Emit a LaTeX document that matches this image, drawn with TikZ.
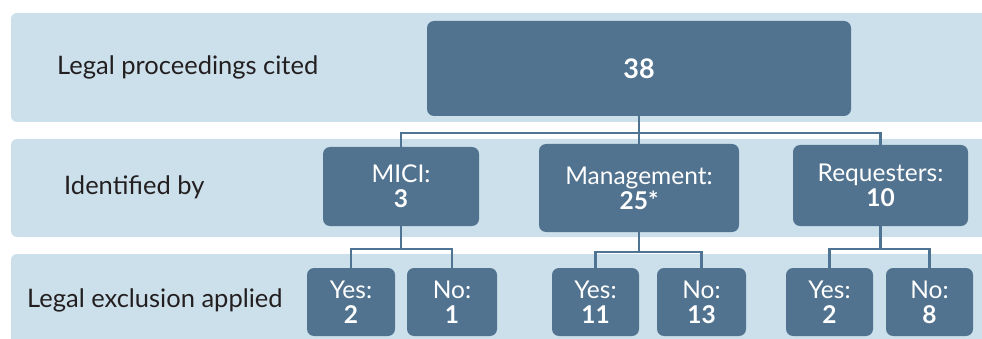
\documentclass[tikz,border=0pt]{standalone}
\usepackage{fontspec}
\setmainfont{Lato}
\definecolor{bandc}{HTML}{CCE0EB}
\definecolor{boxc}{HTML}{51738F}
\definecolor{linec}{HTML}{4F7392}
\definecolor{txtc}{HTML}{231F20}
\tikzset{
  band/.style={fill=bandc, draw=none, rounded corners=6pt},
  bandlabel/.style={text=txtc, font=\fontsize{25.5}{28}\selectfont, anchor=west, inner sep=0pt},
  boxn/.style={fill=boxc, draw=none, rounded corners=7pt, text=white, align=center,
    font=\fontsize{24.5}{25}\selectfont, inner sep=0pt},
  conn/.style={draw=linec, line width=2.6pt}
}
\begin{document}
\begin{tikzpicture}[x=1pt,y=-1pt]
\useasboundingbox (0,0) rectangle (982,339);
\begin{scope}
\clip (0,0) rectangle (982,339);
\fill[band] (11,13) rectangle (1000,122);
\fill[band] (11,139) rectangle (1000,237);
\fill[band] (11,254) rectangle (1000,360);
\end{scope}
\node[bandlabel] (l1) at (57,67) {Legal proceedings cited};
\node[bandlabel] (l2) at (64,187) {Identified by};
\node[bandlabel] (l3) at (27,300) {Legal exclusion applied};

\node[boxn, minimum width=424pt, minimum height=95pt, font=\bfseries\fontsize{27}{28}\selectfont] (top) at (639,68.5) {38};
\node[boxn, minimum width=156pt, minimum height=79pt] (mici) at (401,186.5) {MICI:\\\textbf{3}};
\node[boxn, minimum width=200pt, minimum height=88pt] (mgmt) at (639,188) {Management:\\\textbf{25*}};
\node[boxn, minimum width=175pt, minimum height=81pt] (req) at (880.5,185.5) {Requesters:\\\textbf{10}};

\node[boxn, minimum width=88pt, minimum height=68pt] (y1) at (351,302) {Yes:\\\textbf{2}};
\node[boxn, minimum width=90pt, minimum height=68pt] (n1) at (452,302) {No:\\\textbf{1}};
\node[boxn, minimum width=87pt, minimum height=68pt] (y2) at (595.5,302) {Yes:\\\textbf{11}};
\node[boxn, minimum width=89pt, minimum height=68pt] (n2) at (701.5,302) {No:\\\textbf{13}};
\node[boxn, minimum width=87pt, minimum height=68pt] (y3) at (829.5,302) {Yes:\\\textbf{2}};
\node[boxn, minimum width=87pt, minimum height=68pt] (n3) at (929.5,302) {No:\\\textbf{8}};

\coordinate (j1) at (639,133);
\coordinate (j2) at (401,249);
\coordinate (j3) at (639,252);
\coordinate (j4) at (880.5,249);
\draw[conn] (top.south) -- (j1) -- (mgmt.north);
\draw[conn] (mici.north) |- (j1) -| (req.north);
\draw[conn] (mici.south) -- (j2);
\draw[conn] (y1.north) |- (j2) -| (n1.north);
\draw[conn] (mgmt.south) -- (j3);
\draw[conn] (y2.north) |- (j3) -| (n2.north);
\draw[conn] (req.south) -- (j4);
\draw[conn] (y3.north) |- (j4) -| (n3.north);
\end{tikzpicture}
\end{document}
